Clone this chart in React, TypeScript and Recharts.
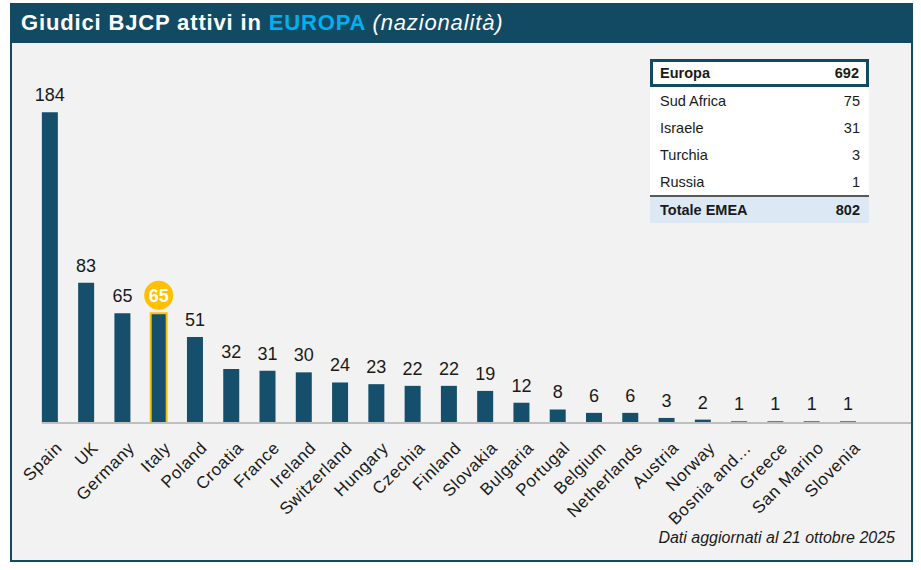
import { Bar, BarChart, Cell, LabelList, XAxis, YAxis } from "recharts"

const COUNTRIES = [
  "Spain", "UK", "Germany", "Italy", "Poland", "Croatia", "France", "Ireland",
  "Switzerland", "Hungary", "Czechia", "Finland", "Slovakia", "Bulgaria", "Portugal",
  "Belgium", "Netherlands", "Austria", "Norway", "Bosnia and…", "Greece", "San Marino", "Slovenia",
]
const JUDGES = [184, 83, 65, 65, 51, 32, 31, 30, 24, 23, 22, 22, 19, 12, 8, 6, 6, 3, 2, 1, 1, 1, 1]
const HIGHLIGHT = "Italy"

const TABLE_LABELS = ["Europa", "Sud Africa", "Israele", "Turchia", "Russia"]
const TABLE_VALUES = [692, 75, 31, 3, 1]
const TOTAL_LABEL = "Totale EMEA"
const TOTAL_VALUE = 802

const FONT = '"Liberation Sans", Arial, sans-serif'
const DARK = "#124a63"
const BAR = "#154f6b"
const GOLD = "#ffc000"
const TEXT = "#1a1a1a"

const data = COUNTRIES.map((name, i) => ({ name, value: JUDGES[i] }))

function ValueLabel(props: any) {
  const { x, y, width, value, index } = props
  const cx = Number(x) + Number(width) / 2
  const top = Number(y)
  if (COUNTRIES[index] === HIGHLIGHT) {
    return (
      <g>
        <circle cx={cx} cy={top - 18} r={14.5} fill={GOLD} />
        <text x={cx} y={top - 18} dy="0.36em" textAnchor="middle" fill="#fff" fontWeight="bold" fontSize={18} fontFamily={FONT}>
          {value}
        </text>
      </g>
    )
  }
  return (
    <text x={cx} y={top - 11} textAnchor="middle" fill={TEXT} fontSize={18} fontFamily={FONT}>
      {value}
    </text>
  )
}

function CountryTick(props: any) {
  const { x, y, payload } = props
  const tx = Number(x) + 13
  const ty = Number(y) + 26
  return (
    <text
      x={tx}
      y={ty}
      textAnchor="end"
      transform={`rotate(-45 ${tx} ${ty})`}
      fill={TEXT}
      fontSize={17}
      letterSpacing={0.6}
      fontFamily={FONT}
    >
      {payload.value}
    </text>
  )
}

function SummaryTable() {
  const row = { display: "flex", justifyContent: "space-between", alignItems: "center", height: 27, padding: "0 9px 0 10px" } as const
  return (
    <div style={{ position: "absolute", left: 650, top: 59, width: 219, fontFamily: FONT, fontSize: 14.5, color: TEXT, background: "#fff" }}>
      {TABLE_LABELS.map((label, i) =>
        i === 0 ? (
          <div key={label} style={{ ...row, height: 28, boxSizing: "border-box", border: `3px solid ${DARK}`, padding: "0 7px 0 7px", fontWeight: "bold" }}>
            <span>{label}</span>
            <span>{TABLE_VALUES[i]}</span>
          </div>
        ) : (
          <div key={label} style={row}>
            <span>{label}</span>
            <span>{TABLE_VALUES[i]}</span>
          </div>
        ),
      )}
      <div style={{ ...row, height: 26, borderTop: "2px solid #595959", background: "#dce9f5", fontWeight: "bold" }}>
        <span>{TOTAL_LABEL}</span>
        <span>{TOTAL_VALUE}</span>
      </div>
    </div>
  )
}

export default function App() {
  return (
    <div style={{ position: "absolute", left: 0, top: 0, width: 921, height: 570, background: "#fff", fontFamily: FONT }}>
      <div
        style={{
          position: "absolute", left: 10, top: 3, width: 903, height: 559, boxSizing: "border-box",
          border: `2px solid ${DARK}`, background: "#f2f2f2",
        }}
      />
      <div
        style={{
          position: "absolute", left: 10, top: 3, width: 903, height: 40, background: DARK,
          color: "#fff", fontSize: 22, fontWeight: "bold", letterSpacing: 0.85, lineHeight: "40px",
          paddingLeft: 11, boxSizing: "border-box", whiteSpace: "nowrap",
        }}
      >
        Giudici BJCP attivi in <span style={{ color: "#00b0f0" }}>EUROPA</span>{" "}
        <span style={{ fontWeight: "normal", fontStyle: "italic" }}>(nazionalità)</span>
      </div>
      <div style={{ position: "absolute", left: 0, top: 0 }}>
        <BarChart width={921} height={570} data={data} margin={{ top: 85.3, right: 10, left: 42, bottom: 87 }}>
          <YAxis hide domain={[0, 200]} />
          <XAxis
            dataKey="name"
            interval={0}
            height={60}
            tickSize={0}
            tickMargin={0}
            tickLine={false}
            axisLine={{ stroke: "#bfbfbf", strokeWidth: 2 }}
            padding={{ left: -10.14, right: 44.8 }}
            tick={<CountryTick />}
          />
          <Bar dataKey="value" barSize={16} fill={BAR} isAnimationActive={false}>
            {data.map((d) => (
              <Cell key={d.name} fill={BAR} stroke={d.name === HIGHLIGHT ? GOLD : "none"} strokeWidth={d.name === HIGHLIGHT ? 2 : 0} />
            ))}
            <LabelList dataKey="value" content={<ValueLabel />} />
          </Bar>
        </BarChart>
      </div>
      <SummaryTable />
      <div style={{ position: "absolute", right: 921 - 895, top: 529, fontSize: 16, fontStyle: "italic", color: TEXT, whiteSpace: "nowrap" }}>
        Dati aggiornati al 21 ottobre 2025
      </div>
    </div>
  )
}
